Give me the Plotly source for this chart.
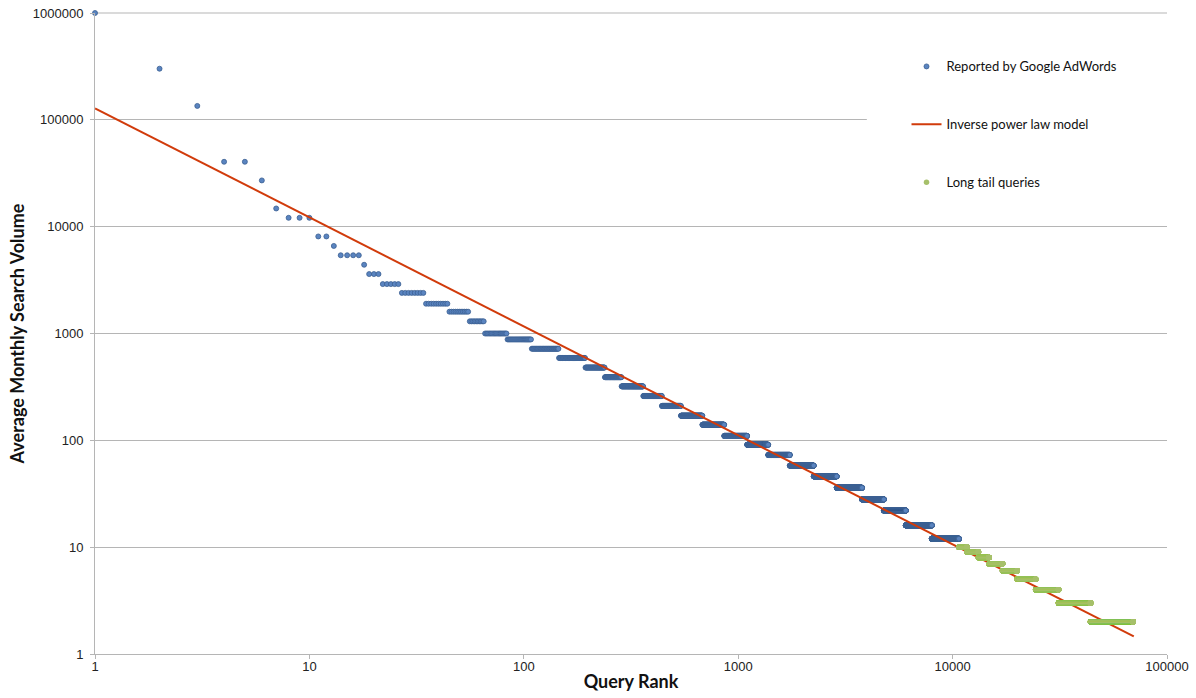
import numpy as np
import plotly.graph_objects as go

# Reported by Google AdWords: bucket volume and last query rank in that bucket
reported_volume = [1000000, 301000, 135000, 40500, 27100, 14800, 12100, 8100, 6600,
                   5400, 4400, 3600, 2900, 2400, 1900, 1600, 1300, 1000, 880, 720,
                   590, 480, 390, 320, 260, 210, 170, 140, 110, 91, 73, 58, 46, 36,
                   28, 22, 16, 12]
reported_last_rank = [1, 2, 3, 5, 6, 7, 10, 12, 13,
                      17, 18, 21, 26, 34, 44, 55, 65, 83, 108, 145,
                      193, 238, 285, 360, 440, 540, 680, 860, 1100, 1380, 1740, 2250, 2880, 3780,
                      4780, 6050, 8000, 10700]

# Long tail queries: bucket volume and last query rank
tail_volume = [10, 9, 8, 7, 6, 5, 4, 3, 2]
tail_last_rank = [11700, 13200, 14800, 17100, 20000, 24400, 31200, 44000, 69500]

# Inverse power law model (straight line on log-log axes)
model_rank = [1, 70000]
model_volume = [128000, 1.46]

x_tick_vals = [1, 10, 100, 1000, 10000, 100000]
x_tick_text = ["1", "10", "100", "1000", "10000", "100000"]
y_tick_vals = [1, 10, 100, 1000, 10000, 100000, 1000000]
y_tick_text = ["1", "10", "100", "1000", "10000", "100000", "1000000"]


def expand(volumes, last_ranks, first_rank):
    xs, ys = [], []
    start = first_rank
    for v, last in zip(volumes, last_ranks):
        r = np.arange(start, last + 1)
        xs.append(r)
        ys.append(np.full(len(r), v))
        start = last + 1
    return np.concatenate(xs), np.concatenate(ys)


rep_x, rep_y = expand(reported_volume, reported_last_rank, 1)
tail_x, tail_y = expand(tail_volume, tail_last_rank, reported_last_rank[-1] + 1)

GRID = "#b5b5b5"
tick_font = dict(family="Liberation Sans, Arial, sans-serif", size=13, color="#222222")
title_font = dict(family="Lato, Liberation Sans, sans-serif", size=18, color="#111111")

fig = go.Figure()
fig.add_trace(go.Scatter(
    x=rep_x, y=rep_y, mode="markers", name="Reported by Google AdWords",
    legendgroup="a", cliponaxis=False,
    marker=dict(size=5, color="#5a84c0", line=dict(color="#3b5f92", width=0.8)),
))
fig.add_trace(go.Scatter(
    x=model_rank, y=model_volume, mode="lines", name="Inverse power law model",
    legendgroup="b",
    line=dict(color="#d13b0b", width=2),
))
fig.add_trace(go.Scatter(
    x=tail_x, y=tail_y, mode="markers", name="Long tail queries",
    legendgroup="c",
    marker=dict(size=5.5, color="#a6c06a", line=dict(width=0)),
))

# top gridline (at 1000000) and white legend backing that hides the gridline behind it
fig.add_shape(type="line", xref="paper", yref="paper", x0=0, x1=1, y0=1, y1=1,
              line=dict(color=GRID, width=1), layer="below")
fig.add_shape(type="rect", xref="paper", yref="paper", x0=0.72, x1=1.0, y0=0.70, y1=0.955,
              fillcolor="white", line=dict(width=0), layer="above")

fig.update_layout(
    width=1196, height=698,
    margin=dict(l=95, r=29, t=13, b=44),
    paper_bgcolor="white", plot_bgcolor="white",
    showlegend=True,
    legend=dict(
        x=0.757, y=0.94, xanchor="left", yanchor="top",
        bgcolor="rgba(0,0,0,0)",
        font=dict(family="Lato, Open Sans, sans-serif", size=13, color="#111111"),
        tracegroupgap=38,
        itemwidth=30,
    ),
    xaxis=dict(
        type="log", range=[0, 5], automargin=False,
        tickvals=x_tick_vals, ticktext=x_tick_text,
        showgrid=False, zeroline=False,
        showline=True, linecolor=GRID, linewidth=1,
        ticks="outside", ticklen=4, tickcolor=GRID,
        tickfont=tick_font, ticklabelstandoff=-4, ticklabeloverflow="allow",
        title=dict(text="<b>Query Rank</b>", font=title_font, standoff=2),
    ),
    yaxis=dict(
        type="log", range=[0, 6], automargin=False,
        tickvals=y_tick_vals, ticktext=y_tick_text,
        showgrid=True, gridcolor=GRID, gridwidth=1,
        zeroline=False,
        showline=True, linecolor=GRID, linewidth=1,
        ticks="outside", ticklen=4, tickcolor=GRID,
        tickfont=tick_font, ticklabelstandoff=4, ticklabeloverflow="allow",
        title=dict(text="<b>Average Monthly Search Volume</b>", font=title_font, standoff=3),
    ),
)

# remove the default 8px page margin so the figure fills the window exactly
fig.write_html("out.html", config={"displayModeBar": False},
               post_script="document.body.style.margin='0';")
